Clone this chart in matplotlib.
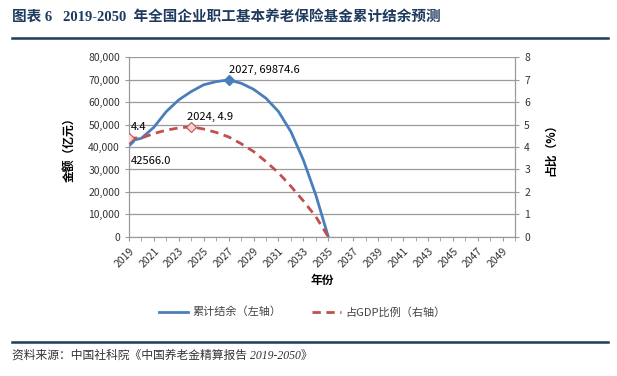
import matplotlib
matplotlib.use("Agg")
import matplotlib.pyplot as plt
from matplotlib.lines import Line2D
from matplotlib.ticker import FuncFormatter, MultipleLocator
import numpy as np

plt.rcParams['font.family'] = ['Noto Sans CJK SC', 'DejaVu Sans']

# datos
years = np.arange(2019, 2036)
balance = [42566.0, 43900, 48800, 55800, 61000, 64700, 67700, 69100, 69874.6,
           68400, 65700, 61700, 55800, 46800, 34200, 18600, 0]
gdp_ratio = [4.4, 4.4, 4.6, 4.75, 4.85, 4.9, 4.8, 4.65, 4.45,
             4.15, 3.8, 3.35, 2.85, 2.25, 1.6, 0.9, 0]

title = "图表 6   2019-2050  年全国企业职工基本养老保险基金累计结余预测"
source = "资料来源：中国社科院《中国养老金精算报告 2019-2050》"
name_left = "累计结余（左轴）"
name_right = "占GDP比例（右轴）"

blue = "#4A7EBB"
red = "#C0504D"
gray = "#9A9A9A"

fig = plt.figure(figsize=(6.17, 3.76), dpi=100)
ax = fig.add_axes([0.209, 0.370, 0.626, 0.478])
ax2 = ax.twinx()

# lineas
l1, = ax.plot(years, balance, color=blue, lw=2.0, zorder=3)
ax.plot([years[0], years[8]], [balance[0], balance[8]], ls="none", marker="D",
        ms=5, color=blue, zorder=4)
l2, = ax2.plot(years, gdp_ratio, color=red, lw=2.0, ls=(0, (3, 2)), zorder=3)
ax2.plot([years[0], years[5]], [gdp_ratio[0], gdp_ratio[5]], ls="none", marker="D",
         ms=5, mfc="#F4D6D6", mec=red, mew=0.8, zorder=4)

# etiquetas de datos
ax.annotate(f"{balance[0]:.1f}", (years[0], balance[0]), xytext=(1, -14),
            textcoords="offset points", fontsize=8, va="center", ha="left")
ax.annotate(f"{years[8]}, {balance[8]}", (years[8], balance[8]), xytext=(0, 7),
            textcoords="offset points", fontsize=8, va="center", ha="left")
ax2.annotate(f"{gdp_ratio[0]}", (years[0], gdp_ratio[0]), xytext=(1, 8),
             textcoords="offset points", fontsize=8, va="center", ha="left")
ax2.annotate(f"{years[5]}, {gdp_ratio[5]}", (years[5], gdp_ratio[5]), xytext=(-3, 7),
             textcoords="offset points", fontsize=8, va="center", ha="left")

# ejes
ax.set_xlim(2019, 2050)
ax.set_ylim(0, 80000)
ax2.set_ylim(0, 8)
ax.set_xticks(np.arange(2019, 2050, 2))
ax.set_xticklabels([str(y) for y in range(2019, 2050, 2)], rotation=45, ha="right",
                   rotation_mode="anchor", fontsize=7.5, color="#333333")
ax.xaxis.set_minor_locator(MultipleLocator(1))
ax.yaxis.set_major_locator(MultipleLocator(10000))
ax.yaxis.set_major_formatter(FuncFormatter(lambda v, p: f"{int(v):,}"))
ax2.yaxis.set_major_locator(MultipleLocator(1))
ax.tick_params(axis="y", labelsize=7.5, colors=gray, labelcolor="#333333", length=3)
ax2.tick_params(axis="y", labelsize=7.5, colors=gray, labelcolor="#333333", length=3)
ax.tick_params(axis="x", which="both", colors=gray, labelcolor="#333333", length=3)
ax.grid(axis="y", color=gray, lw=0.9)
for a in (ax, ax2):
    for s in a.spines.values():
        s.set_color(gray)
    a.spines["top"].set_visible(False)

ax.set_xlabel("年份", fontsize=8.5, fontweight="bold", labelpad=3)
ax.set_ylabel("金额（亿元）", fontsize=8.5, fontweight="bold", labelpad=9)
ax2.set_ylabel("占比（%）", fontsize=8.5, fontweight="bold", rotation=90, labelpad=10)

fig.legend([l1, l2], [name_left, name_right], loc="center", bbox_to_anchor=(0.49, 0.17),
           ncol=2, frameon=False, fontsize=8, handlelength=2.6, columnspacing=2.8,
           handletextpad=0.4, labelcolor="#444444")

# titulo y fuente
fig.text(0.02, 0.955, title, fontsize=10.5, fontweight="bold", color="#1F3A5F",
         family=["Liberation Serif", "Noto Sans CJK SC"], va="center")
fig.add_artist(Line2D([0.02, 0.985], [0.898, 0.898], color="#1F3A5F", lw=1.8))
fig.add_artist(Line2D([0.02, 0.985], [0.09, 0.09], color="#1F3A5F", lw=1.8))
fig.text(0.02, 0.055, source, fontsize=8.5, color="#333333", style="italic",
         family=["Liberation Serif", "Noto Sans CJK SC"], va="center")

plt.savefig("out.png", dpi=100)
